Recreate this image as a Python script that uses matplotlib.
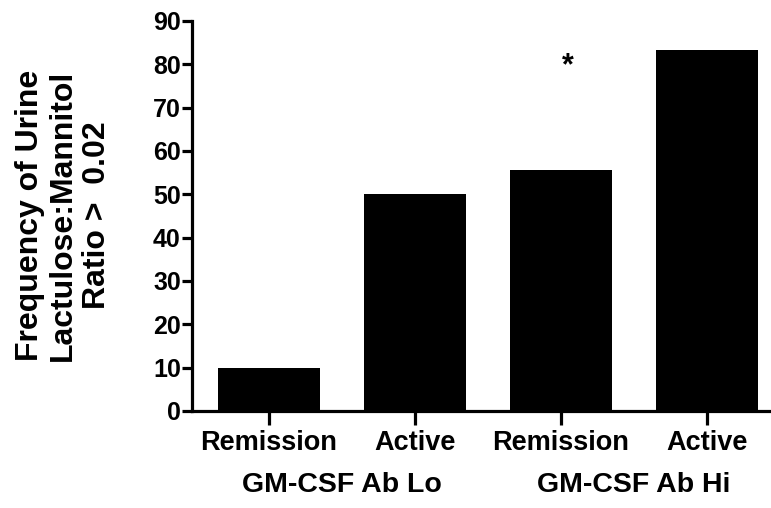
import numpy as np
import matplotlib
matplotlib.use("Agg")
import matplotlib.pyplot as plt

plt.rcParams['font.family'] = ['Liberation Sans', 'DejaVu Sans']
plt.rcParams['font.weight'] = 'bold'

# data
categories = ["Remission", "Active", "Remission", "Active"]
values = [10, 50, 55.6, 83.3]
groups = ["GM-CSF Ab Lo", "GM-CSF Ab Hi"]
group_centers = [0.5, 2.5]
yticks = [0, 10, 20, 30, 40, 50, 60, 70, 80, 90]
star_pos = (2.05, 79.5)

fig = plt.figure(figsize=(7.71, 5.08), dpi=100)
ax = fig.add_axes([0.249, 0.191, 0.751, 0.768])

x = np.arange(len(categories))
ax.bar(x, values, width=0.7, color='black', edgecolor='none', zorder=2)

ax.set_xlim(-0.527, 3.44)
ax.set_ylim(0, 90)
ax.set_yticks(yticks)
ax.set_yticklabels([str(v) for v in yticks], fontsize=18, fontweight='bold')
ax.set_xticks(x)
ax.set_xticklabels(categories, fontsize=19.5, fontweight='bold')

for s in ['top', 'right']:
    ax.spines[s].set_visible(False)
for s in ['left', 'bottom']:
    ax.spines[s].set_linewidth(2.3)
ax.tick_params(axis='y', length=7, width=2.3, pad=1)
ax.tick_params(axis='x', length=10, width=2.3, pad=4)

# significance star
ax.text(star_pos[0], star_pos[1], '*', fontsize=22, fontweight='bold',
        ha='center', va='center')

# group labels below the categories
for gx, g in zip(group_centers, groups):
    ax.text(gx, -0.19, g, transform=ax.get_xaxis_transform(),
            fontsize=20.5, fontweight='bold', ha='center', va='center')

fig.text(0.082, 0.577, "Frequency of Urine\nLactulose:Mannitol\nRatio >  0.02",
         rotation=90, fontsize=23, fontweight='bold', ha='center', va='center',
         linespacing=1.15, multialignment='center')

fig.savefig("out.png", dpi=100)
